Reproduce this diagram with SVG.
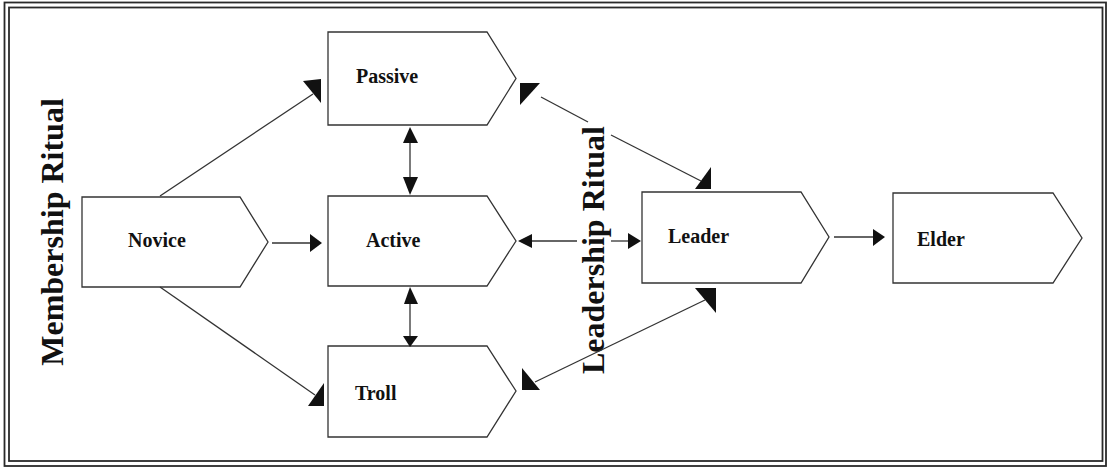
<svg xmlns="http://www.w3.org/2000/svg" width="1109" height="469" viewBox="0 0 1109 469">
  <style>
    .frame { fill: none; stroke: #2a2a2a; stroke-width: 1.8; }
    .node { fill: #ffffff; stroke: #333333; stroke-width: 1.3; }
    .label { font-family: "Liberation Serif", "Times New Roman", serif; font-weight: bold; font-size: 20px; fill: #111111; }
    .ritual { font-family: "Liberation Serif", "Times New Roman", serif; font-weight: bold; font-size: 32px; fill: #111111; text-anchor: middle; }
    .wire { fill: none; stroke: #333333; stroke-width: 1.3; }
    .head { fill: #111111; stroke: none; }
  </style>

  <rect width="1109" height="469" fill="#ffffff"/>

  <!-- double frame -->
  <rect class="frame" x="4.5" y="2.5" width="1101.5" height="463.5"/>
  <rect class="frame" x="9" y="7.5" width="1093.5" height="453.5"/>

  <!-- ritual labels -->
  <text class="ritual" transform="translate(63,232) rotate(-90)">Membership Ritual</text>
  <text class="ritual" transform="translate(604,250) rotate(-90)">Leadership Ritual</text>

  <g id="node-novice">
    <polygon class="node" points="82,197 240,197 268,242 240,287 82,287"/>
    <text class="label" x="128" y="247">Novice</text>
  </g>
  <g id="node-passive">
    <polygon class="node" points="328,32 487,32 516,78.5 487,125 328,125"/>
    <text class="label" x="356" y="83">Passive</text>
  </g>
  <g id="node-active">
    <polygon class="node" points="328,196 487,196 516,241 487,286 328,286"/>
    <text class="label" x="366" y="247">Active</text>
  </g>
  <g id="node-troll">
    <polygon class="node" points="328,346 487,346 516,391 487,437 328,437"/>
    <text class="label" x="355" y="400">Troll</text>
  </g>
  <g id="node-leader">
    <polygon class="node" points="642,192 801,192 829,237 801,283 642,283"/>
    <text class="label" x="668" y="243">Leader</text>
  </g>
  <g id="node-elder">
    <polygon class="node" points="893,193 1053,193 1082,238 1053,283 893,283"/>
    <text class="label" x="917" y="246">Elder</text>
  </g>

  <g id="connectors">
    <!-- Novice to Passive -->
    <line class="wire" x1="160" y1="196" x2="313" y2="94"/>
    <polygon class="head" points="303,81 321,79 321,103"/>
    <!-- Novice to Troll -->
    <line class="wire" x1="160" y1="287" x2="315" y2="395"/>
    <polygon class="head" points="308,406 324,383 324,406"/>
    <!-- Novice to Active -->
    <line class="wire" x1="272" y1="243" x2="311" y2="243"/>
    <polygon class="head" points="310,234 322,243 310,252"/>
    <!-- Passive / Active -->
    <line class="wire" x1="410" y1="143" x2="410" y2="178"/>
    <polygon class="head" points="403,143 410,127 418,143"/>
    <polygon class="head" points="403,177 418,177 410,195"/>
    <!-- Active / Troll -->
    <line class="wire" x1="410" y1="304" x2="410" y2="337"/>
    <polygon class="head" points="404,304 410,287 418,304"/>
    <polygon class="head" points="403,336 418,336 410,347"/>
    <!-- Active / Leader -->
    <line class="wire" x1="531" y1="241" x2="577" y2="241"/>
    <line class="wire" x1="611" y1="241" x2="629" y2="241"/>
    <polygon class="head" points="518,241 532,234 532,248"/>
    <polygon class="head" points="628,233 641,241 628,249"/>
    <!-- Passive / Leader -->
    <line class="wire" x1="541" y1="97" x2="588" y2="122"/>
    <line class="wire" x1="611" y1="135" x2="701" y2="181"/>
    <polygon class="head" points="520,83 540,83 520,105"/>
    <polygon class="head" points="695,189 711,167 711,189"/>
    <!-- Troll / Leader -->
    <line class="wire" x1="535" y1="382" x2="705" y2="300"/>
    <polygon class="head" points="522,368 522,390 540,390"/>
    <polygon class="head" points="695,288 716,288 716,313"/>
    <!-- Leader to Elder -->
    <line class="wire" x1="834" y1="237" x2="874" y2="237"/>
    <polygon class="head" points="873,229 885,237 873,246"/>
  </g>
</svg>
